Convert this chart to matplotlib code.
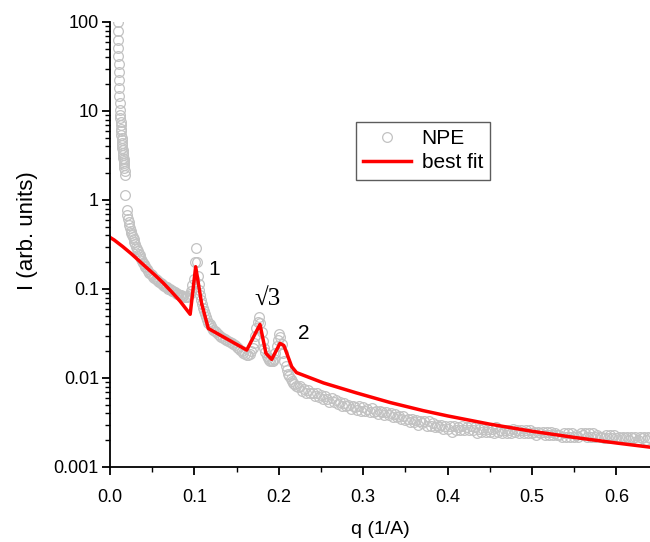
import matplotlib
matplotlib.use("Agg")
import matplotlib.pyplot as plt
from matplotlib.ticker import LogLocator, MultipleLocator, FixedLocator, NullFormatter

plt.rcParams['font.family'] = ['Liberation Sans', 'DejaVu Sans']

# ---- NPE data (gray circles) ----
q_col = [0.0080, 0.00825, 0.0085, 0.00875, 0.0090, 0.00925, 0.0095, 0.00975, 0.0100, 0.01025,
         0.0105, 0.01075, 0.0110, 0.01125, 0.0115, 0.01175, 0.0120, 0.01225, 0.0125, 0.01275,
         0.0130, 0.01325, 0.0135, 0.01375, 0.0140, 0.01425, 0.0145, 0.01475, 0.0150, 0.01525,
         0.0155, 0.01575, 0.0160, 0.01625, 0.0165, 0.01675, 0.0170, 0.01725, 0.0175]
I_col = [282, 224, 178, 135, 100, 79, 63, 51, 42, 34,
         27.5, 22.4, 18.2, 14.8, 12.3, 10.2, 9.1, 8.3, 7.6, 6.9,
         6.3, 5.9, 5.4, 5.0, 4.7, 4.4, 4.1, 3.8, 3.6, 3.4,
         3.2, 3.0, 2.9, 2.75, 2.6, 2.45, 2.3, 2.1, 1.9]

q_mid = [0.0183, 0.0198, 0.0206, 0.0214, 0.0222, 0.0230, 0.0238, 0.0246, 0.0254, 0.0262,
         0.0270, 0.0280, 0.0290, 0.0300, 0.0310, 0.0320, 0.0330, 0.0340, 0.0350, 0.0360,
         0.0370, 0.0380, 0.0390, 0.0400, 0.0410, 0.0420, 0.0435, 0.0450, 0.0465, 0.0480,
         0.0495, 0.0510, 0.0525, 0.0540, 0.0555, 0.0570, 0.0585, 0.0600, 0.0615, 0.0630,
         0.0645, 0.0660, 0.0675, 0.0690, 0.0705, 0.0720, 0.0735, 0.0750, 0.0765, 0.0780,
         0.0795, 0.0810, 0.0825, 0.0840, 0.0855, 0.0870, 0.0885, 0.0900, 0.0915, 0.0930,
         0.0945, 0.0960, 0.0975, 0.0990, 0.1005, 0.1015, 0.1030, 0.1040, 0.1050, 0.1060,
         0.1070, 0.1080, 0.1090, 0.1100, 0.1110, 0.1120, 0.1135, 0.1150, 0.1165, 0.1180,
         0.1195, 0.1210, 0.1225, 0.1240, 0.1260, 0.1280, 0.1300, 0.1320, 0.1340, 0.1360,
         0.1380, 0.1400, 0.1420, 0.1440, 0.1460, 0.1480, 0.1500, 0.1520, 0.1540, 0.1560,
         0.1580, 0.1600, 0.1620, 0.1640, 0.1660, 0.1675, 0.1690, 0.1705, 0.1720, 0.1735,
         0.1750, 0.1765, 0.1780, 0.1795, 0.1810, 0.1825, 0.1840, 0.1855, 0.1870, 0.1885,
         0.1900, 0.1915, 0.1930, 0.1945, 0.1960, 0.1975, 0.1990, 0.2005, 0.2020, 0.2035,
         0.2050, 0.2065, 0.2080, 0.2095, 0.2110, 0.2125, 0.2140, 0.2155, 0.2170, 0.2185,
         0.2200]
I_mid = [1.15, 0.78, 0.68, 0.61, 0.56, 0.52, 0.48, 0.45, 0.425, 0.40,
         0.38, 0.36, 0.34, 0.32, 0.30, 0.28, 0.265, 0.25, 0.238, 0.226,
         0.215, 0.205, 0.197, 0.189, 0.182, 0.176, 0.168, 0.160, 0.153, 0.147,
         0.142, 0.137, 0.133, 0.129, 0.126, 0.122, 0.119, 0.116, 0.113, 0.110,
         0.108, 0.106, 0.104, 0.101, 0.099, 0.097, 0.096, 0.094, 0.092, 0.091,
         0.089, 0.088, 0.086, 0.085, 0.084, 0.083, 0.082, 0.081, 0.082, 0.084,
         0.088, 0.095, 0.110, 0.130, 0.200, 0.290, 0.200, 0.140, 0.115, 0.098,
         0.085, 0.075, 0.067, 0.061, 0.056, 0.052, 0.048, 0.045, 0.042, 0.040,
         0.038, 0.036, 0.035, 0.034, 0.0325, 0.031, 0.030, 0.029, 0.028, 0.0275,
         0.027, 0.026, 0.0255, 0.0248, 0.024, 0.0232, 0.0224, 0.0215, 0.0207, 0.0199,
         0.0192, 0.0186, 0.0182, 0.0182, 0.0188, 0.020, 0.022, 0.025, 0.030, 0.036,
         0.043, 0.048, 0.042, 0.033, 0.026, 0.022, 0.0195, 0.0178, 0.0167, 0.0160,
         0.0156, 0.0154, 0.0156, 0.0165, 0.019, 0.023, 0.027, 0.031, 0.029, 0.024,
         0.019, 0.0155, 0.0135, 0.0122, 0.0112, 0.0104, 0.0097, 0.0092, 0.0088, 0.0085,
         0.0082]

q_high = [0.2225, 0.2250, 0.2275, 0.2300, 0.2325, 0.2350, 0.2375, 0.2400, 0.2425, 0.2450,
          0.2475, 0.2500, 0.2525, 0.2550, 0.2575, 0.2600, 0.2625, 0.2650, 0.2675, 0.2700,
          0.2725, 0.2750, 0.2775, 0.2800, 0.2825, 0.2850, 0.2875, 0.2900, 0.2925, 0.2950,
          0.2975, 0.3000, 0.3025, 0.3050, 0.3075, 0.3100, 0.3125, 0.3150, 0.3175, 0.3200,
          0.3225, 0.3250, 0.3275, 0.3300, 0.3325, 0.3350, 0.3375, 0.3400, 0.3425, 0.3450,
          0.3475, 0.3500, 0.3525, 0.3550, 0.3575, 0.3600, 0.3625, 0.3650, 0.3675, 0.3700,
          0.3725, 0.3750, 0.3775, 0.3800, 0.3825, 0.3850, 0.3875, 0.3900, 0.3925, 0.3950,
          0.3975, 0.4000, 0.4025, 0.4050, 0.4075, 0.4100, 0.4125, 0.4150, 0.4175, 0.4200,
          0.4225, 0.4250, 0.4275, 0.4300, 0.4325, 0.4350, 0.4375, 0.4400, 0.4425, 0.4450,
          0.4475, 0.4500, 0.4525, 0.4550, 0.4575, 0.4600, 0.4625, 0.4650, 0.4675, 0.4700,
          0.4725, 0.4750, 0.4775, 0.4800, 0.4825, 0.4850, 0.4875, 0.4900, 0.4925, 0.4950,
          0.4975, 0.5000, 0.5025, 0.5050, 0.5075, 0.5100, 0.5125, 0.5150, 0.5175, 0.5200,
          0.5225, 0.5250, 0.5275, 0.5300, 0.5325, 0.5350, 0.5375, 0.5400, 0.5425, 0.5450,
          0.5475, 0.5500, 0.5525, 0.5550, 0.5575, 0.5600, 0.5625, 0.5650, 0.5675, 0.5700,
          0.5725, 0.5750, 0.5775, 0.5800, 0.5825, 0.5850, 0.5875, 0.5900, 0.5925, 0.5950,
          0.5975, 0.6000, 0.6025, 0.6050, 0.6075, 0.6100, 0.6125, 0.6150, 0.6175, 0.6200,
          0.6225, 0.6250, 0.6275, 0.6300, 0.6325, 0.6350, 0.6375, 0.6400]
I_high = [0.0080, 0.0081, 0.0072, 0.0075, 0.0067, 0.0073, 0.0067, 0.0067, 0.0062, 0.0067,
          0.0061, 0.0065, 0.0058, 0.0062, 0.0058, 0.0054, 0.0059, 0.0054, 0.0056, 0.0051,
          0.0054, 0.0048, 0.0053, 0.0048, 0.0050, 0.0045, 0.0049, 0.0047, 0.0044, 0.0048,
          0.0043, 0.0047, 0.0043, 0.0045, 0.0041, 0.0046, 0.0041, 0.0043, 0.0039, 0.0043,
          0.0041, 0.0038, 0.0041, 0.0038, 0.0040, 0.0036, 0.0039, 0.0036, 0.0037, 0.0035,
          0.0037, 0.0034, 0.0035, 0.0032, 0.0035, 0.0032, 0.0034, 0.0030, 0.0033, 0.0031,
          0.0033, 0.0029, 0.0033, 0.0029, 0.0031, 0.0028, 0.0030, 0.0028, 0.0030, 0.0027,
          0.0029, 0.0027, 0.0029, 0.0025, 0.0029, 0.0026, 0.0028, 0.0026, 0.0029, 0.0026,
          0.0028, 0.0026, 0.0029, 0.0026, 0.0028, 0.0024, 0.0027, 0.0025, 0.0027, 0.0025,
          0.0027, 0.0025, 0.0027, 0.0024, 0.0028, 0.0025, 0.0026, 0.0024, 0.0026, 0.0024,
          0.0026, 0.0024, 0.0027, 0.0025, 0.0026, 0.0024, 0.0026, 0.0024, 0.0026, 0.0024,
          0.0026, 0.0024, 0.0025, 0.0023, 0.0025, 0.0024, 0.0025, 0.0023, 0.0025, 0.0023,
          0.0025, 0.0023, 0.0024, 0.0023, 0.0023, 0.0022, 0.0024, 0.0022, 0.0024, 0.0022,
          0.0024, 0.0022, 0.0023, 0.0022, 0.0024, 0.0023, 0.0024, 0.0022, 0.0024, 0.0022,
          0.0024, 0.0022, 0.0023, 0.0022, 0.0022, 0.0021, 0.0023, 0.0021, 0.0023, 0.0021,
          0.0023, 0.0021, 0.0022, 0.0021, 0.0022, 0.0021, 0.0022, 0.0020, 0.0022, 0.0021,
          0.0022, 0.0020, 0.0022, 0.0021, 0.0022, 0.0020, 0.0022, 0.0021]

# ---- best fit (red line) ----
q_fit = [0.000, 0.005, 0.015, 0.025, 0.0336, 0.043, 0.053, 0.063, 0.073, 0.083,
         0.095, 0.1015, 0.1085, 0.1165, 0.162, 0.1777, 0.1848, 0.1916, 0.2014, 0.2060,
         0.2153, 0.221, 0.253, 0.292, 0.332, 0.371, 0.400, 0.450, 0.500, 0.550,
         0.600, 0.640]
I_fit = [0.38, 0.355, 0.30, 0.25, 0.211, 0.175, 0.144, 0.117, 0.093, 0.073,
         0.052, 0.178, 0.069, 0.036, 0.0206, 0.040, 0.0189, 0.0162, 0.0245, 0.0232,
         0.0134, 0.0115, 0.0088, 0.0068, 0.0053, 0.0043, 0.00375, 0.00303, 0.00252, 0.00215,
         0.00186, 0.00167]

peak_labels = ["1", "\u221a3", "2"]
peak_q = [0.123, 0.187, 0.229]
peak_I = [0.166, 0.078, 0.0318]

fig = plt.figure(figsize=(6.5, 5.42), dpi=100)
ax = fig.add_axes([110/650, 1-467/542, 540/650, 445/542])

ax.plot(q_col + q_mid + q_high, I_col + I_mid + I_high, linestyle='none', marker='o',
        markersize=7, markerfacecolor='none', markeredgecolor='#c2c2c2',
        markeredgewidth=0.9, label='NPE')
ax.plot(q_fit, I_fit, color='#ff0000', linewidth=2.5, label='best fit')

ax.set_yscale('log')
ax.set_xlim(0, 0.6398)
ax.set_ylim(0.001, 100)

ax.xaxis.set_major_locator(FixedLocator([0.0, 0.1, 0.2, 0.3, 0.4, 0.5, 0.6]))
ax.xaxis.set_minor_locator(MultipleLocator(0.05))
ax.set_xticklabels(['0.0', '0.1', '0.2', '0.3', '0.4', '0.5', '0.6'])
ax.yaxis.set_major_locator(FixedLocator([0.001, 0.01, 0.1, 1, 10, 100]))
ax.set_yticklabels(['0.001', '0.01', '0.1', '1', '10', '100'])
ax.yaxis.set_minor_locator(LogLocator(base=10, subs=range(2, 10), numticks=20))
ax.yaxis.set_minor_formatter(NullFormatter())

for s in ['top', 'right']:
    ax.spines[s].set_visible(False)
for s in ['left', 'bottom']:
    ax.spines[s].set_linewidth(1.3)

ax.tick_params(which='major', direction='out', length=6, width=1.3, labelsize=13, colors='black')
ax.tick_params(which='minor', direction='out', length=3.5, width=1.0)
ax.tick_params(axis='x', which='major', pad=10)
ax.tick_params(axis='y', which='major', pad=2)

ax.set_xlabel('q (1/A)', fontsize=14, labelpad=11)
ax.set_ylabel('I (arb. units)', fontsize=16)
ax.yaxis.set_label_coords(-83/540, (467-231)/445)
ax.yaxis.label.set_verticalalignment('center')

for lab, xq, yi in zip(peak_labels, peak_q, peak_I):
    if lab.startswith('\u221a'):
        ax.text(xq, yi, lab, fontsize=18, ha='center', va='center',
                family=['Liberation Serif', 'DejaVu Serif'])
    else:
        ax.text(xq, yi, lab, fontsize=15, ha='center', va='center')

leg = ax.legend(loc='upper left', bbox_to_anchor=((356-110)/540, (467-122)/445),
                borderaxespad=0, fancybox=False, frameon=True, fontsize=15,
                handlelength=2.3, handletextpad=0.5, borderpad=0.35, labelspacing=0.25)
leg.get_frame().set_edgecolor('#333333')
leg.get_frame().set_linewidth(1.0)

fig.savefig('out.png', dpi=100)
